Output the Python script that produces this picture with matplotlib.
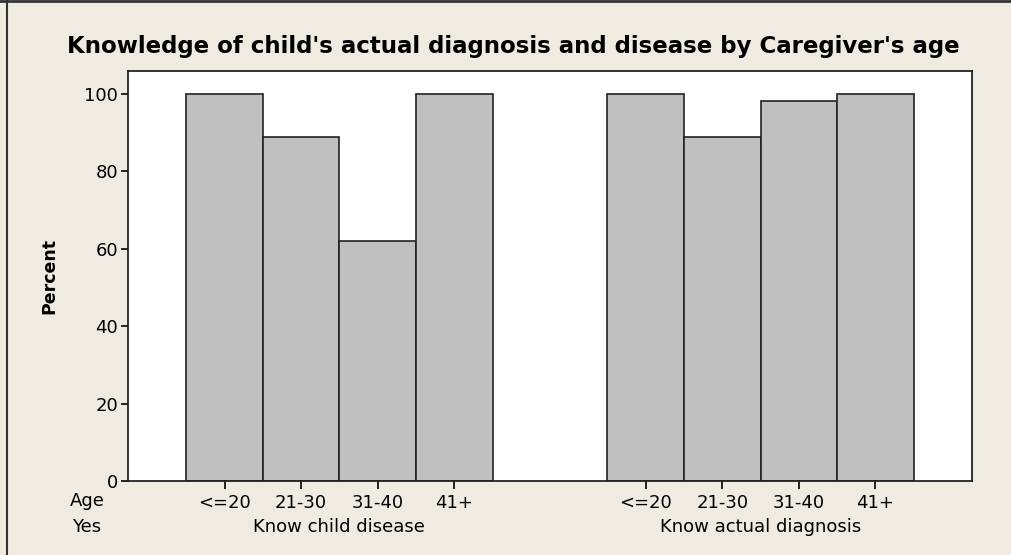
import matplotlib.pyplot as plt
from matplotlib.lines import Line2D
from matplotlib.transforms import blended_transform_factory

# data
ages = ["<=20", "21-30", "31-40", "41+"]
groups = ["Know child disease", "Know actual diagnosis"]
know_child_disease = [100, 88.9, 62.0, 100]
know_actual_diagnosis = [100, 88.9, 98.1, 100]
yticks = [0, 20, 40, 60, 80, 100]

bg = "#efebe1"
bar_color = "#c0c0c0"
W, H = 1011, 555

fig = plt.figure(figsize=(W / 100, H / 100), dpi=100, facecolor=bg)
ax = fig.add_axes([128 / W, 1 - 481 / H, (972 - 128) / W, (481 - 71) / H])
ax.set_facecolor("white")

offsets = [0, 5.5]
series = [know_child_disease, know_actual_diagnosis]
centers = []
for off, vals in zip(offsets, series):
    xs = [off + i for i in range(len(ages))]
    ax.bar(xs, vals, width=1.0, color=bar_color, edgecolor="#222222", linewidth=1.2)
    centers.append(xs)

ax.set_xlim(-1.26, 9.76)
ax.set_ylim(0, 105.9)
ax.set_yticks(yticks)
ax.tick_params(axis="y", direction="out", length=5, width=1.2, labelsize=13, pad=2)

all_x = centers[0] + centers[1]
ax.set_xticks(all_x)
ax.set_xticklabels(ages * 2, fontsize=13)
ax.tick_params(axis="x", direction="out", length=6, width=1.2, pad=3)

for s in ax.spines.values():
    s.set_linewidth(1.3)
    s.set_color("#222222")

# group labels and row headers under the axis
trans = blended_transform_factory(ax.transData, fig.transFigure)
for xs, name in zip(centers, groups):
    ax.text(sum(xs) / len(xs), 1 - 527 / H, name, transform=trans,
            ha="center", va="center", fontsize=13)
fig.text(87 / W, 1 - 501 / H, "Age", ha="center", va="center", fontsize=13)
fig.text(87 / W, 1 - 527 / H, "Yes", ha="center", va="center", fontsize=13)

ax.set_ylabel("Percent", fontsize=12.5, fontweight="bold", labelpad=19)
fig.text(513 / W, 1 - 46 / H,
         "Knowledge of child's actual diagnosis and disease by Caregiver's age",
         ha="center", va="center", fontsize=16.5, fontweight="bold")

# outer frame lines at top and left
fig.add_artist(Line2D([0, 1], [0.998, 0.998], transform=fig.transFigure, color="#333333", lw=2))
fig.add_artist(Line2D([7 / W, 7 / W], [0, 1], transform=fig.transFigure, color="#333333", lw=1.5))

fig.savefig("out.png", dpi=100, facecolor=bg)
